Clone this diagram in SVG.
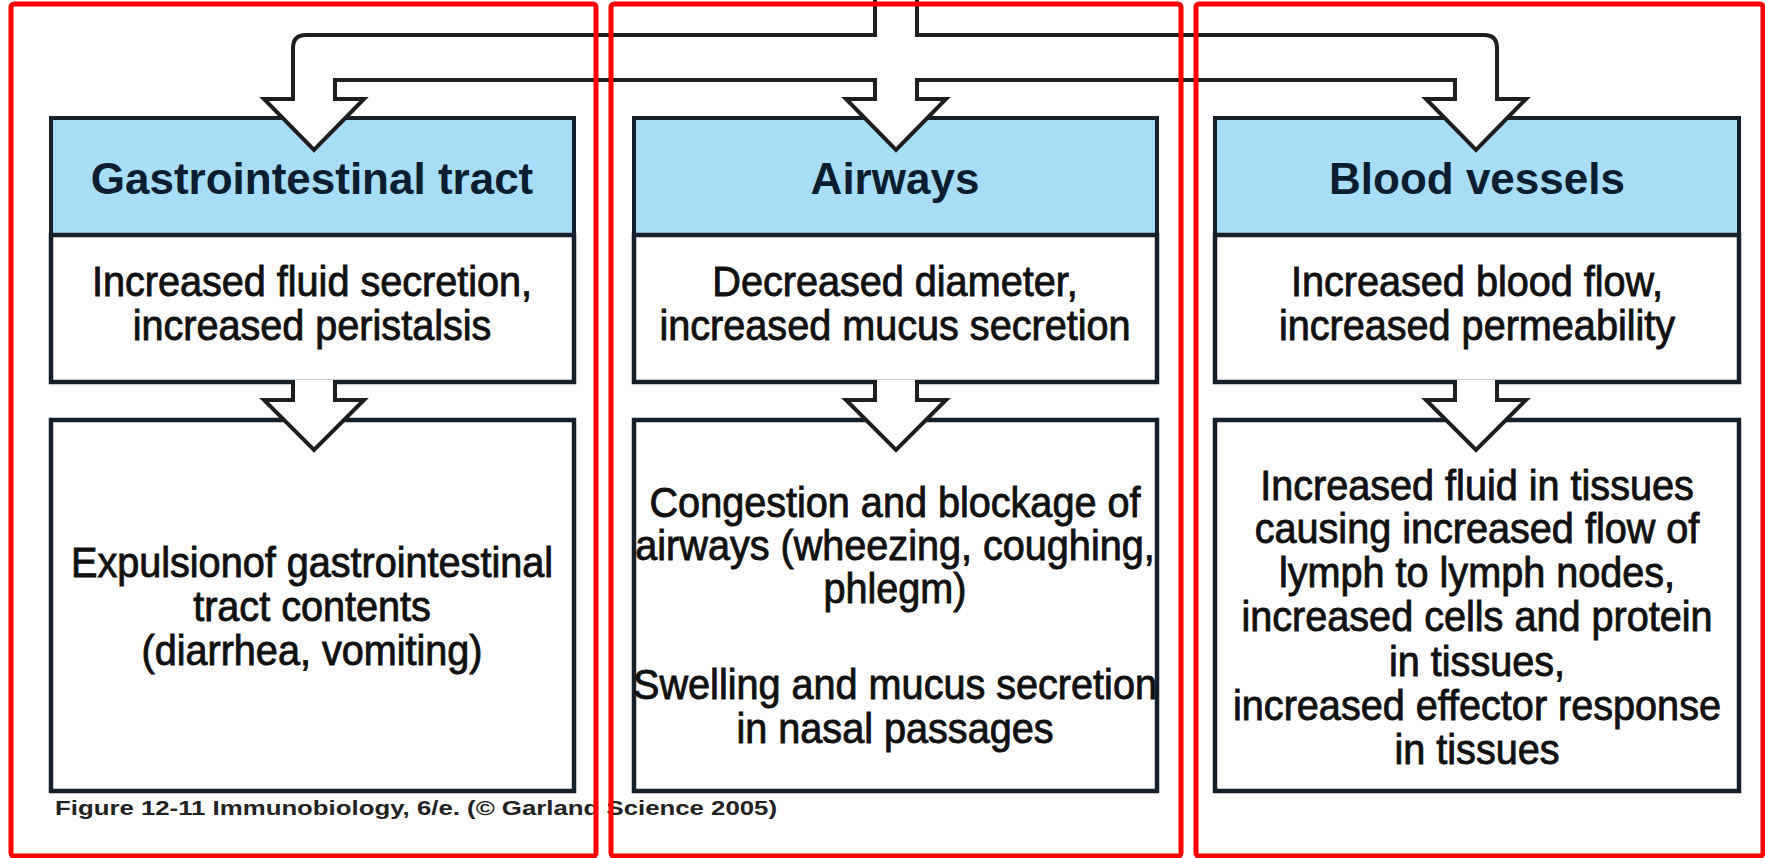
<svg xmlns="http://www.w3.org/2000/svg" width="1765" height="858" viewBox="0 0 1765 858">
<style>
.bg{fill:#ffffff}
.hdr{fill:#a7ddf7;stroke:#15202b;stroke-width:4}
.box{fill:#ffffff;stroke:#15202b;stroke-width:4.5}
.arrow{fill:#ffffff;stroke:#1e1e1e;stroke-width:4;stroke-linejoin:miter}
.frame{fill:none;stroke:#ff0000;stroke-width:5}
.ht{font-family:"Liberation Sans",Arial,sans-serif;font-weight:bold;font-size:44px;fill:#0b1d2e;text-anchor:middle}
.bt{font-family:"Liberation Sans",Arial,sans-serif;font-size:42px;fill:#111111;stroke:#111111;stroke-width:0.9px;text-anchor:middle}
.cap{font-family:"Liberation Sans",Arial,sans-serif;font-weight:bold;font-size:21px;fill:#222222}
</style>
<rect class="bg" x="0" y="0" width="1765" height="858"/>

<g id="gi-header"><rect class="hdr" x="51" y="118" width="523" height="117"/><text class="ht" x="312" y="194">Gastrointestinal tract</text></g>
<g id="gi-effect"><rect class="box" x="51" y="235" width="523" height="147"/>
<text class="bt" transform="translate(312,296) scale(0.943,1)">Increased fluid secretion,</text>
<text class="bt" transform="translate(312,340) scale(0.943,1)">increased peristalsis</text></g>
<g id="gi-outcome"><rect class="box" x="51" y="420" width="523" height="371"/>
<text class="bt" transform="translate(312,577) scale(0.943,1)">Expulsionof gastrointestinal</text>
<text class="bt" transform="translate(312,621) scale(0.943,1)">tract contents</text>
<text class="bt" transform="translate(312,665) scale(0.943,1)">(diarrhea, vomiting)</text></g>

<g id="aw-header"><rect class="hdr" x="634" y="118" width="523" height="117"/><text class="ht" x="895" y="194">Airways</text></g>
<g id="aw-effect"><rect class="box" x="634" y="235" width="523" height="147"/>
<text class="bt" transform="translate(895,296) scale(0.943,1)">Decreased diameter,</text>
<text class="bt" transform="translate(895,340) scale(0.943,1)">increased mucus secretion</text></g>
<g id="aw-outcome"><rect class="box" x="634" y="420" width="523" height="371"/>
<text class="bt" transform="translate(895,517) scale(0.943,1)">Congestion and blockage of</text>
<text class="bt" transform="translate(895,560) scale(0.943,1)">airways (wheezing, coughing,</text>
<text class="bt" transform="translate(895,603) scale(0.943,1)">phlegm)</text>
<text class="bt" transform="translate(895,699) scale(0.943,1)">Swelling and mucus secretion</text>
<text class="bt" transform="translate(895,743) scale(0.943,1)">in nasal passages</text></g>

<g id="bv-header"><rect class="hdr" x="1215" y="118" width="524" height="117"/><text class="ht" x="1477" y="194">Blood vessels</text></g>
<g id="bv-effect"><rect class="box" x="1215" y="235" width="524" height="147"/>
<text class="bt" transform="translate(1477,296) scale(0.943,1)">Increased blood flow,</text>
<text class="bt" transform="translate(1477,340) scale(0.943,1)">increased permeability</text></g>
<g id="bv-outcome"><rect class="box" x="1215" y="420" width="524" height="371"/>
<text class="bt" transform="translate(1477,500) scale(0.943,1)">Increased fluid in tissues</text>
<text class="bt" transform="translate(1477,543) scale(0.943,1)">causing increased flow of</text>
<text class="bt" transform="translate(1477,587) scale(0.943,1)">lymph to lymph nodes,</text>
<text class="bt" transform="translate(1477,631) scale(0.943,1)">increased cells and protein</text>
<text class="bt" transform="translate(1477,676) scale(0.943,1)">in tissues,</text>
<text class="bt" transform="translate(1477,720) scale(0.943,1)">increased effector response</text>
<text class="bt" transform="translate(1477,764) scale(0.943,1)">in tissues</text></g>

<g id="connectors">
<path class="arrow" d="M875,-6 V35 H306 Q293,35 293,48 V99 H264 L314,150 L364,99 H335 V80 H875 V99 H846 L896,150 L946,99 H917 V80 H1455 V99 H1426 L1476,150 L1526,99 H1497 V48 Q1497,35 1484,35 H917 V-6"/>
<path class="arrow" d="M293,380 V400 H264 L314,450 L364,400 H335 V380"/>
<path class="arrow" d="M875,380 V400 H846 L896,450 L946,400 H917 V380"/>
<path class="arrow" d="M1455,380 V400 H1426 L1476,450 L1526,400 H1497 V380"/>
</g>

<text class="cap" x="55" y="815" textLength="722" lengthAdjust="spacingAndGlyphs">Figure 12-11  Immunobiology, 6/e. (© Garland Science 2005)</text>

<g id="frames">
<rect class="frame" x="11" y="4" width="585" height="852" rx="3"/>
<rect class="frame" x="611" y="4" width="570" height="852" rx="3"/>
<rect class="frame" x="1196" y="4" width="567" height="852" rx="3"/>
</g>
</svg>
